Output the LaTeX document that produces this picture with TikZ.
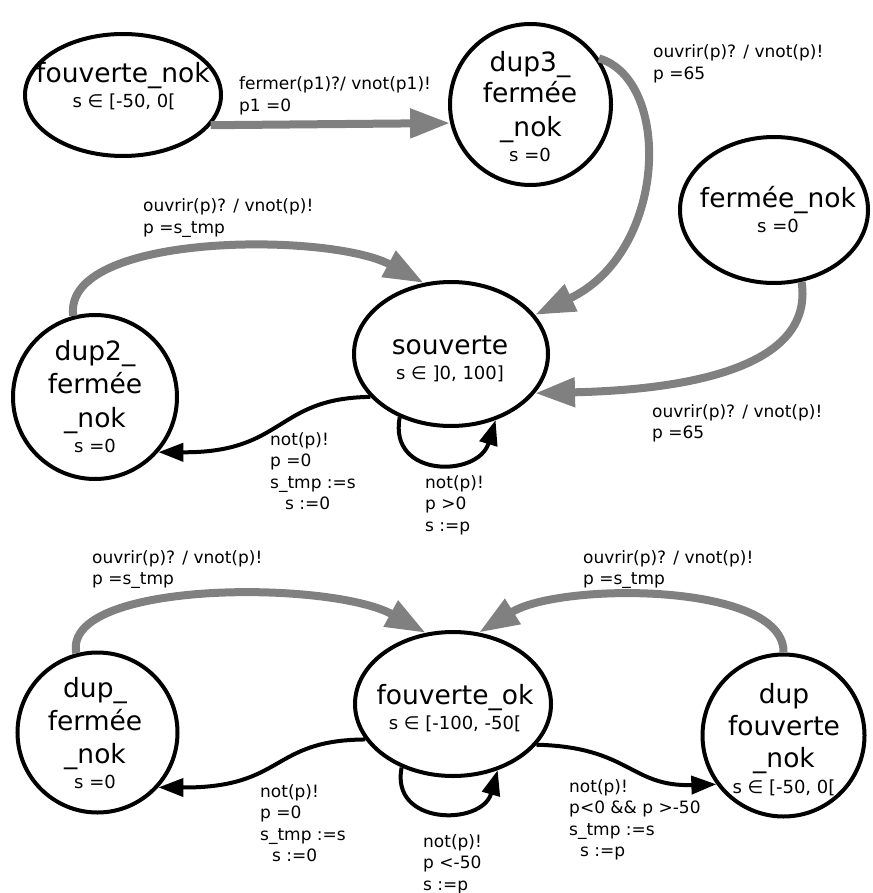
\documentclass[tikz,border=0pt]{standalone}
\usepackage{fontspec}
\setmainfont{DejaVu Sans}
\usetikzlibrary{arrows.meta,shapes.geometric}
\definecolor{edgegray}{RGB}{128,128,128}
\newcommand{\lbl}[1]{\begin{tabular}[t]{@{}l@{}}#1\end{tabular}}
\begin{document}
\begin{tikzpicture}[x=1pt,y=-1pt,
 state/.style={draw=black, line width=4pt, ellipse, inner sep=0pt},
 cstate/.style={draw=black, line width=4pt, circle, inner sep=0pt},
 mt/.style={font=\fontsize{26.5}{26.5}\selectfont, anchor=base, inner sep=0pt},
 st/.style={font=\fontsize{18}{18}\selectfont, anchor=base, inner sep=0pt},
 el/.style={font=\fontsize{17}{21.5}\selectfont, anchor=base west, inner sep=0pt},
 gedge/.style={draw=edgegray, line width=8pt, -{Triangle[length=40pt,width=28pt]}},
 bedge/.style={draw=black, line width=4pt, -{Triangle[length=25pt,width=18pt]}},
]
\useasboundingbox (0,0) rectangle (872,893);

% states
\node[state, minimum width=196pt, minimum height=122pt] (fn) at (123,95) {};
\node[cstate, minimum size=161pt] (d3) at (530.5,104.5) {};
\node[state, minimum width=188pt, minimum height=146pt] (fe) at (774,210) {};
\node[state, minimum width=194pt, minimum height=144pt] (so) at (451,354) {};
\node[cstate, minimum size=164pt] (d2) at (95,397) {};
\node[cstate, minimum size=160pt] (df) at (97.5,732.5) {};
\node[state, minimum width=196pt, minimum height=144pt] (fo) at (453,704) {};
\node[cstate, minimum size=162pt] (dfo) at (783.5,735.5) {};

% state texts
\node[mt] (fnA) at (123,83) {fouverte\_nok};
\node[st] (fnB) at (124,108) {s ∈ [-50, 0[};

\node[mt] (d3A) at (530,72) {dup3\_};
\node[mt] (d3B) at (530,103) {fermée};
\node[mt] (d3C) at (531,137) {\_nok};
\node[st] (d3D) at (530,162) {s =0};

\node[mt] (feA) at (778,208) {fermée\_nok};
\node[st] (feB) at (778,233) {s =0};

\node[mt] (soA) at (450,354) {souverte};
\node[st] (soB) at (450,379) {s ∈ ]0, 100]};

\node[mt] (d2A) at (95,360) {dup2\_};
\node[mt] (d2B) at (95,393) {fermée};
\node[mt] (d2C) at (95,427) {\_nok};
\node[st] (d2D) at (95,452) {s =0};

\node[mt] (dfA) at (95,697) {dup\_};
\node[mt] (dfB) at (95,730) {fermée};
\node[mt] (dfC) at (95,763) {\_nok};
\node[st] (dfD) at (95,788) {s =0};

\node[mt] (foA) at (455,704) {fouverte\_ok};
\node[st] (foB) at (455,729) {s ∈ [-100, -50[};

\node[mt] (dfoA) at (784,703) {dup};
\node[mt] (dfoB) at (784,735) {fouverte};
\node[mt] (dfoC) at (784,767) {\_nok};
\node[st] (dfoD) at (784,793) {s ∈ [-50, 0[};

% gray edges
\draw[gedge] (fn.-19.5) -- (d3.193);
\draw[gedge] (d3.34) .. controls (672,80) and (668,252) .. (so.25);
\draw[gedge] (fe.-69.5) .. controls (815,370) and (680,390) .. (so.-25.5);
\draw[gedge] (d2.105) .. controls (62,232) and (330,232) .. (so.111);
\draw[gedge] (df.105) .. controls (62,580) and (330,580) .. (fo.111);
\draw[gedge] (dfo.90) .. controls (785,582) and (560,582) .. (fo.70);

% black edges
\draw[bedge] (so.208) .. controls (275,398) and (285,453) .. (d2.-41);
\draw[bedge] (so.231.5) .. controls (388,478) and (478,478) .. (so.-56);
\draw[bedge] (fo.202) .. controls (270,740) and (285,788) .. (df.-42.5);
\draw[bedge] (fo.231) .. controls (390,826) and (482,826) .. (fo.-56);
\draw[bedge] (fo.-26) .. controls (630,747) and (630,787) .. (dfo.216);

% edge labels
\node[el] (l1) at (239,90) {\lbl{fermer(p1)?/ vnot(p1)!\\p1 =0}};
\node[el] (l2) at (653,58) {\lbl{ouvrir(p)? / vnot(p)!\\p =65}};
\node[el] (l3) at (143,212) {\lbl{ouvrir(p)? / vnot(p)!\\p =s\_tmp}};
\node[el] (l4) at (652,417) {\lbl{ouvrir(p)? / vnot(p)!\\p =65}};
\node[el] (l5) at (270,445) {\lbl{not(p)!\\p =0\\s\_tmp :=s\\\hspace*{15pt}s :=0}};
\node[el] (l6) at (425,488) {\lbl{not(p)!\\p >0\\s :=p}};
\node[el] (l7) at (92,563) {\lbl{ouvrir(p)? / vnot(p)!\\p =s\_tmp}};
\node[el] (l8) at (583,563) {\lbl{ouvrir(p)? / vnot(p)!\\p =s\_tmp}};
\node[el] (l9) at (260,797) {\lbl{not(p)!\\p =0\\s\_tmp :=s\\\hspace*{12pt}s :=0}};
\node[el] (l10) at (423,847) {\lbl{not(p)!\\p <-50\\s :=p}};
\node[el] (l11) at (569,792) {\lbl{not(p)!\\p<0 \&\& p >-50\\s\_tmp :=s\\\hspace*{11pt}s :=p}};
\end{tikzpicture}
\end{document}
